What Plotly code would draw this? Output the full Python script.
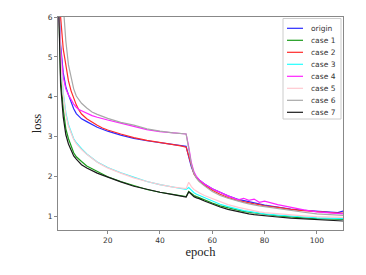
import plotly.graph_objects as go

epochs = [1,2,3,4,5,6,7,8,9,10,12,14,16,18,20,25,30,35,40,45,48,50,51,52,53,54,55,57,60,63,66,70,72,74,76,78,80,85,90,95,100,105,108,110]

origin = [7.0,5.3,4.6,4.25,4.05,3.85,3.7,3.58,3.5,3.45, 3.38,3.3,3.24,3.19,3.14, 3.04,2.96,2.9,2.85,2.8,2.77,2.76, 2.5,2.25,2.08,1.98,1.92, 1.82,1.7,1.6,1.52,1.43, 1.4,1.37,1.34,1.32,1.29, 1.24,1.19,1.16,1.13,1.11,1.1,1.14]
case1 = [7.0,4.5,3.7,3.2,2.95,2.75,2.6,2.5,2.43,2.38, 2.27,2.2,2.13,2.06,2.0, 1.88,1.77,1.68,1.61,1.55,1.51,1.5, 1.63,1.57,1.53,1.5,1.47, 1.42,1.34,1.27,1.22,1.16, 1.13,1.11,1.09,1.07,1.06, 1.02,0.99,0.97,0.95,0.94,0.93,0.93]
case2 = [7.5,6.0,5.2,4.75,4.4,4.15,3.95,3.8,3.67,3.57, 3.45,3.36,3.29,3.22,3.17, 3.07,2.98,2.91,2.86,2.8,2.77,2.74, 2.5,2.24,2.07,1.97,1.9, 1.79,1.66,1.56,1.48,1.4, 1.37,1.34,1.32,1.3,1.27, 1.23,1.18,1.15,1.12,1.1,1.09,1.09]
case3 = [7.0,5.0,4.1,3.6,3.3,3.1,2.95,2.85,2.76,2.7, 2.57,2.46,2.37,2.3,2.23, 2.1,1.98,1.88,1.8,1.74,1.7,1.68, 1.73,1.65,1.6,1.56,1.53, 1.47,1.38,1.31,1.25,1.18, 1.15,1.13,1.11,1.09,1.07, 1.04,1.01,0.99,0.97,0.96,0.95,0.95]
case4 = [6.5,5.2,4.5,4.2,4.05,3.92,3.82,3.74,3.68,3.65, 3.58,3.53,3.49,3.45,3.42, 3.34,3.26,3.18,3.13,3.1,3.08,3.07, 2.75,2.35,2.12,2.0,1.92, 1.82,1.7,1.6,1.52,1.42, 1.46,1.41,1.44,1.36,1.39, 1.3,1.23,1.17,1.12,1.09,1.07,1.07]
case5 = [7.0,5.0,4.05,3.55,3.27,3.08,2.93,2.83,2.75,2.68, 2.56,2.45,2.36,2.29,2.22, 2.09,1.97,1.88,1.8,1.74,1.71,1.7, 1.86,1.75,1.68,1.63,1.6, 1.53,1.45,1.37,1.3,1.23, 1.2,1.17,1.14,1.12,1.1, 1.07,1.04,1.02,1.0,0.99,0.98,0.98]
case6 = [8.0,7.5,6.3,5.4,4.8,4.45,4.2,4.02,3.92,3.84, 3.72,3.62,3.56,3.5,3.46, 3.36,3.29,3.2,3.14,3.1,3.08,3.07, 2.7,2.3,2.08,1.96,1.88, 1.77,1.63,1.53,1.46,1.38, 1.35,1.32,1.29,1.27,1.25, 1.2,1.15,1.11,1.07,1.05,1.04,1.03]
case7 = [7.0,4.3,3.5,3.05,2.82,2.65,2.52,2.44,2.36,2.3, 2.22,2.15,2.09,2.04,1.99, 1.87,1.76,1.68,1.61,1.55,1.51,1.49, 1.62,1.55,1.5,1.47,1.45, 1.39,1.31,1.24,1.18,1.12, 1.09,1.07,1.05,1.04,1.03, 0.99,0.96,0.94,0.92,0.91,0.9,0.89]

names = ["origin", "case 1", "case 2", "case 3", "case 4", "case 5", "case 6", "case 7"]
series = [origin, case1, case2, case3, case4, case5, case6, case7]
colors = ["#2a2aff", "#1a9a1a", "#ff2a2a", "#22ffff", "#ff22ff", "#ffc8d0", "#a8a8a8", "#1a1a1a"]

x_ticks = [20, 40, 60, 80, 100]
y_ticks = [1, 2, 3, 4, 5, 6]

W, H = 366, 275
ML, MR, MT, MB = 58, 23, 17, 45
PW, PH = W - ML - MR, H - MT - MB

def px_x(p):
    return (p - ML) / PW

def px_y(p):
    return 1 - (p - MT) / PH

fig = go.Figure()
for name, ys, c in zip(names, series, colors):
    fig.add_trace(go.Scatter(x=epochs, y=ys, mode="lines", name=name,
                             line=dict(color=c, width=1.2), showlegend=False))

# compact legend (matplotlib style)
shapes = [dict(type="rect", xref="paper", yref="paper",
               x0=px_x(283), x1=px_x(341), y0=px_y(119), y1=px_y(18.5),
               line=dict(color="#cccccc", width=1), fillcolor="rgba(255,255,255,0.8)", layer="above")]
annotations = []
for i, (name, c) in enumerate(zip(names, colors)):
    yy = 28.3 + i * 12.0
    shapes.append(dict(type="line", xref="paper", yref="paper",
                       x0=px_x(287), x1=px_x(303), y0=px_y(yy), y1=px_y(yy),
                       line=dict(color=c, width=1.2), layer="above"))
    annotations.append(dict(xref="paper", yref="paper", x=px_x(309), y=px_y(yy),
                            text=name, showarrow=False, xanchor="left", yanchor="middle",
                            font=dict(family="DejaVu Sans", size=7.5, color="#333333")))

fig.update_layout(
    width=W, height=H,
    margin=dict(l=ML, r=MR, t=MT, b=MB),
    paper_bgcolor="white", plot_bgcolor="white",
    shapes=shapes, annotations=annotations,
    font=dict(family="DejaVu Sans", size=7.5, color="#333333"),
)
fig.update_xaxes(range=[1, 110], tickvals=x_ticks, showgrid=False, zeroline=False,
                 showline=True, linecolor="#888888", linewidth=1, mirror=True,
                 ticks="outside", ticklen=3, tickcolor="#888888",
                 tickfont=dict(family="DejaVu Sans", size=7.5, color="#333333"),
                 title=dict(text="epoch", font=dict(family="Liberation Serif", size=12.5, color="#222222"), standoff=3))
fig.update_yaxes(range=[0.665, 6.0], tickvals=y_ticks, showgrid=False, zeroline=False,
                 showline=True, linecolor="#888888", linewidth=1, mirror=True,
                 ticks="outside", ticklen=3, tickcolor="#888888",
                 tickfont=dict(family="DejaVu Sans", size=7.5, color="#333333"),
                 title=dict(text="loss", font=dict(family="Liberation Serif", size=12.5, color="#222222"), standoff=3))

fig.write_html("out.html", config={"displayModeBar": False},
               post_script="document.body.style.margin='0';")
